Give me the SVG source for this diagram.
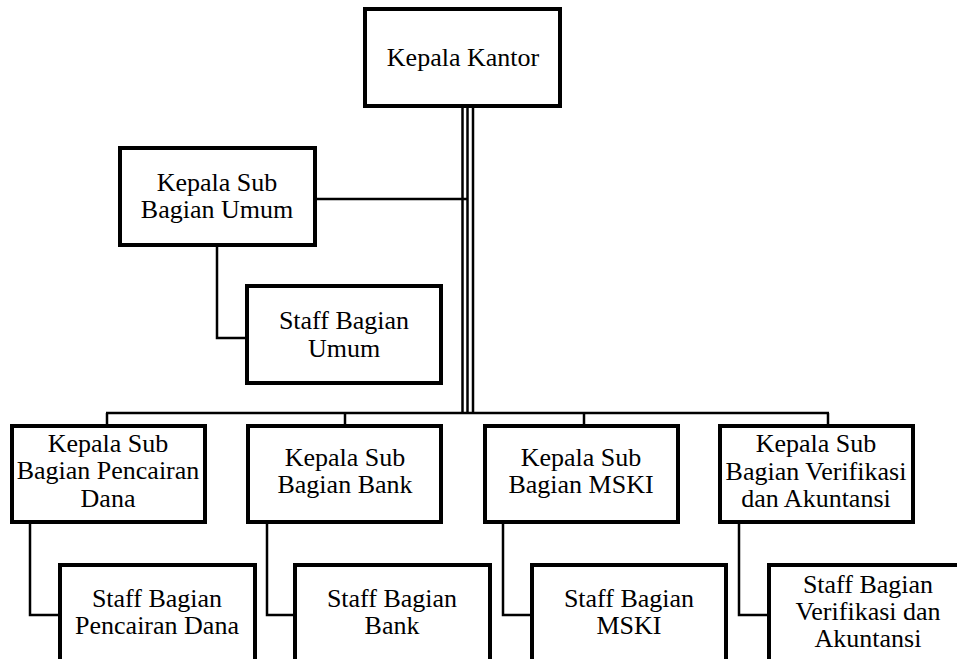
<svg xmlns="http://www.w3.org/2000/svg" width="957" height="659" viewBox="0 0 957 659">
<style>
.box{fill:#fff;stroke:#000;stroke-width:4}
.ln{fill:none;stroke:#000;stroke-width:2.5}
text{font-family:"Liberation Serif","Times New Roman",serif;font-size:26px;fill:#000;text-anchor:middle}
</style>
<rect width="957" height="659" fill="#fff"/>
<g id="connectors">
<line class="ln" x1="462.5" y1="106" x2="462.5" y2="413"/>
<line class="ln" x1="467.5" y1="106" x2="467.5" y2="413"/>
<line class="ln" x1="473" y1="106" x2="473" y2="413"/>
<line class="ln" x1="315" y1="199" x2="468" y2="199"/>
<polyline class="ln" points="217,245 217,338 247,338"/>
<line class="ln" x1="106" y1="413" x2="829" y2="413"/>
<line class="ln" x1="107" y1="413" x2="107" y2="426"/>
<line class="ln" x1="345" y1="413" x2="345" y2="426"/>
<line class="ln" x1="584" y1="413" x2="584" y2="426"/>
<line class="ln" x1="828" y1="413" x2="828" y2="426"/>
<polyline class="ln" points="30,522 30,615 60,615"/>
<polyline class="ln" points="267,522 267,615 295,615"/>
<polyline class="ln" points="503,522 503,615 532,615"/>
<polyline class="ln" points="739,522 739,615 769,615"/>
</g>
<g id="kepala-kantor">
<rect class="box" x="365" y="9" width="195" height="97"/>
<text x="463" y="66">Kepala Kantor</text>
</g>
<g id="kasubag-umum">
<rect class="box" x="120" y="148" width="195" height="97"/>
<text x="217" y="191">Kepala Sub</text>
<text x="217" y="218">Bagian Umum</text>
</g>
<g id="staff-umum">
<rect class="box" x="247" y="286" width="194" height="97"/>
<text x="344" y="329">Staff Bagian</text>
<text x="344" y="357">Umum</text>
</g>
<g id="kasubag-pencairan">
<rect class="box" x="12" y="426" width="193" height="96"/>
<text x="108" y="452">Kepala Sub</text>
<text x="108" y="479">Bagian Pencairan</text>
<text x="108" y="507">Dana</text>
</g>
<g id="kasubag-bank">
<rect class="box" x="248" y="426" width="193" height="96"/>
<text x="345" y="466">Kepala Sub</text>
<text x="345" y="493">Bagian Bank</text>
</g>
<g id="kasubag-mski">
<rect class="box" x="485" y="426" width="193" height="96"/>
<text x="581" y="466">Kepala Sub</text>
<text x="581" y="493">Bagian MSKI</text>
</g>
<g id="kasubag-verifikasi">
<rect class="box" x="720" y="426" width="193" height="96"/>
<text x="816" y="452">Kepala Sub</text>
<text x="816" y="480">Bagian Verifikasi</text>
<text x="816" y="507">dan Akuntansi</text>
</g>
<g id="staff-pencairan">
<rect class="box" x="60" y="565" width="195" height="110"/>
<text x="157" y="607">Staff Bagian</text>
<text x="157" y="634">Pencairan Dana</text>
</g>
<g id="staff-bank">
<rect class="box" x="295" y="565" width="195" height="110"/>
<text x="392" y="607">Staff Bagian</text>
<text x="392" y="634">Bank</text>
</g>
<g id="staff-mski">
<rect class="box" x="532" y="565" width="194" height="110"/>
<text x="629" y="607">Staff Bagian</text>
<text x="629" y="634">MSKI</text>
</g>
<g id="staff-verifikasi">
<rect class="box" x="769" y="565" width="195" height="110"/>
<text x="868" y="593">Staff Bagian</text>
<text x="868" y="620">Verifikasi dan</text>
<text x="868" y="647">Akuntansi</text>
</g>
</svg>
